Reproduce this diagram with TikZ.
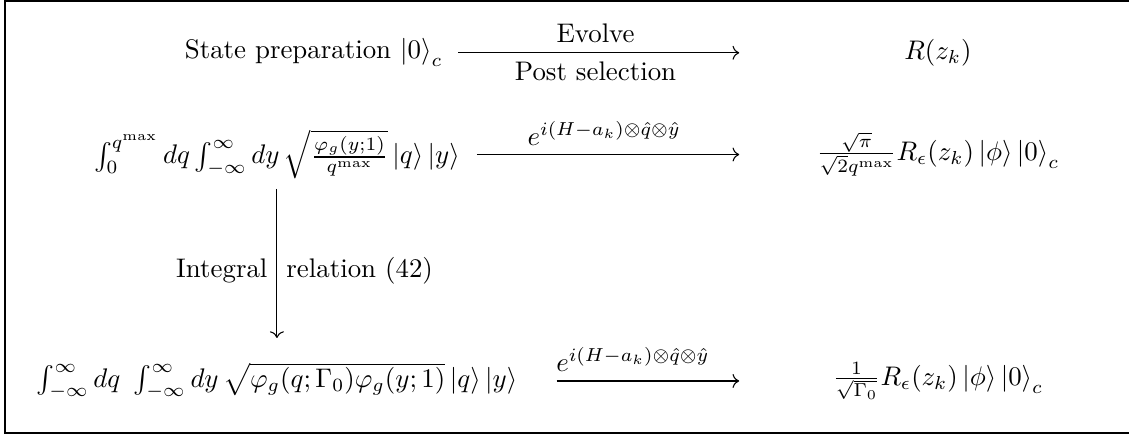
\documentclass[tikz,border=0pt]{standalone}
\usepackage{mathtools, amssymb}
\usepackage{tikz}
\usetikzlibrary{arrows.meta, positioning}

\newcommand{\ket}[1]{\left|#1\right\rangle}

\begin{document}
\begin{tikzpicture}[
  cell/.style={inner sep=3.33pt},
  rcell/.style={cell, minimum width=5.18cm},
  edge/.style={-To}
]
\useasboundingbox (0,0) rectangle (14.758,-5.699);
\draw[line width=0.8pt] (0.065,-0.013) rectangle (15,-5.66);

\node[cell] (prep) at (4.10,-0.69) {State preparation $\ket{0}_c$};
\node[rcell] (res) at (12.26,-0.69) {$R(z_k)$};
\node[cell] (lhs) at (3.62,-2.02) {$\int_0^{q^{\max}} dq \int_{-\infty}^{\infty} dy \, \sqrt{\frac{\varphi_g(y;1)}{q^{\max}}} \ket{q}\ket{y}$};
\node[rcell] (rhs) at (12.26,-2.02) {$\frac{\sqrt{\pi}}{\sqrt{2}q^{\max}} R_\epsilon(z_k) \ket{\phi}\ket{0}_c$};
\node[cell] (lhsg) at (3.62,-4.98) {$\int_{-\infty}^{\infty} dq\ \int_{-\infty}^{\infty} dy \, \sqrt{\varphi_g(q;\Gamma_0)\varphi_g(y;1)} \ket{q}\ket{y}$};
\node[rcell] (rhsg) at (12.26,-4.98) {$\frac{1}{\sqrt{\Gamma_0}} R_\epsilon(z_k) \ket{\phi}\ket{0}_c$};

\draw[edge, shorten <=0.08cm] (prep) -- node[above] {Evolve} node[below] {Post selection} (res);
\draw[edge, shorten <=0.1cm] (lhs) -- node[above] {$e^{i(H-a_k)\otimes\hat{q}\otimes\hat{y}}$} (rhs);
\draw[edge, shorten <=0.39cm] (lhsg) -- node[above] {$e^{i(H-a_k)\otimes\hat{q}\otimes\hat{y}}$} (rhsg);
\draw[edge, shorten >=0.2cm] (lhs) -- node[left] {Integral} node[right] {relation (42)} (lhsg);
\end{tikzpicture}
\end{document}
